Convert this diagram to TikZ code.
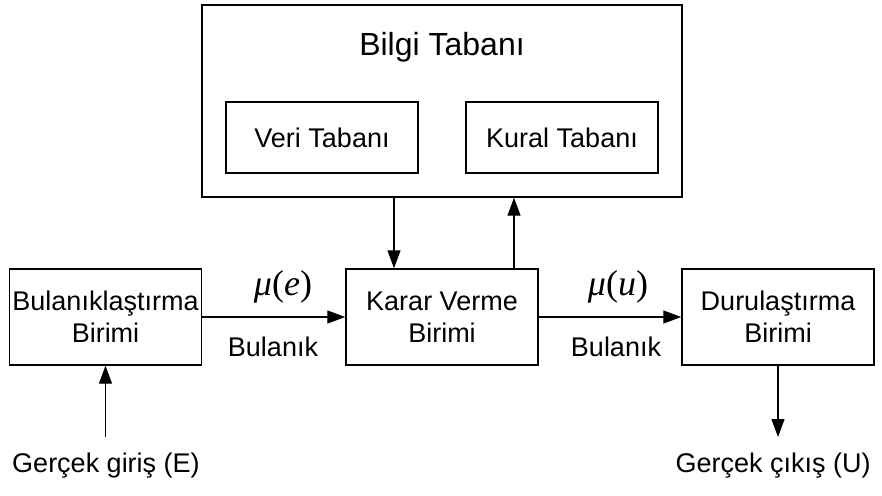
\documentclass[tikz,border=0pt]{standalone}
\usepackage{fontspec}
\setmainfont{Liberation Sans}
\newfontfamily\serifmu{Liberation Serif}
\usetikzlibrary{arrows.meta}
\tikzset{
  blok/.style={rectangle, draw, line width=0.7pt, inner sep=1pt, minimum width=96pt, minimum height=48pt, align=center, font=\fontsize{13.5}{16}\selectfont},
  ok/.style={-{Triangle[length=9pt,width=6.5pt]}, line width=0.6pt},
  yazi/.style={inner sep=0pt, font=\fontsize{13.5}{16}\selectfont},
  mu/.style={inner sep=0pt, font=\serifmu\fontsize{18}{20}\selectfont},
}
\begin{document}
\begin{tikzpicture}[x=0.5pt, y=-0.5pt]
    \useasboundingbox (0,0) rectangle (882,496);

    % kutular
    \node[blok, minimum width=240pt, minimum height=96pt] (bilgi) at (442,101) {};
    \node[yazi, font=\fontsize{16}{18}\selectfont] (baslik) at (442,47) {Bilgi Tabanı};
    \node[blok, minimum height=35.5pt] (veri) at (322,137.5) {Veri Tabanı};
    \node[blok, minimum height=35.5pt] (kural) at (562,137.5) {Kural Tabanı};
    \node[blok] (bulan) at (105.5,317) {Bulanıklaştırma\\Birimi};
    \node[blok] (karar) at (442,317) {Karar Verme\\Birimi};
    \node[blok] (durul) at (778,317) {Durulaştırma\\Birimi};

    % oklar
    \coordinate (asagi) at ([xshift=-24pt]karar.north);
    \coordinate (yukari) at ([xshift=36pt]karar.north);
    \coordinate (giris) at (105.5,437);
    \coordinate (cikis) at (778,437);
    \draw[ok] (asagi |- bilgi.south) -- (asagi);
    \draw[ok] (yukari) -- (yukari |- bilgi.south);
    \draw[ok] (bulan) -- (karar);
    \draw[ok] (karar) -- (durul);
    \draw[ok] (giris) -- (bulan.south);
    \draw[ok] (durul.south) -- (cikis);

    % etiketler
    \node[mu] (mue) at (283,287) {\textit{μ}(\textit{e})};
    \node[yazi] (bul1) at (273,347) {Bulanık};
    \node[mu] (muu) at (618,287) {\textit{μ}(\textit{u})};
    \node[yazi] (bul2) at (616,347) {Bulanık};
    \node[yazi] (gir) at (106,466) {Gerçek giriş (E)};
    \node[yazi] (cik) at (773,466) {Gerçek çıkış (U)};
\end{tikzpicture}
\end{document}
